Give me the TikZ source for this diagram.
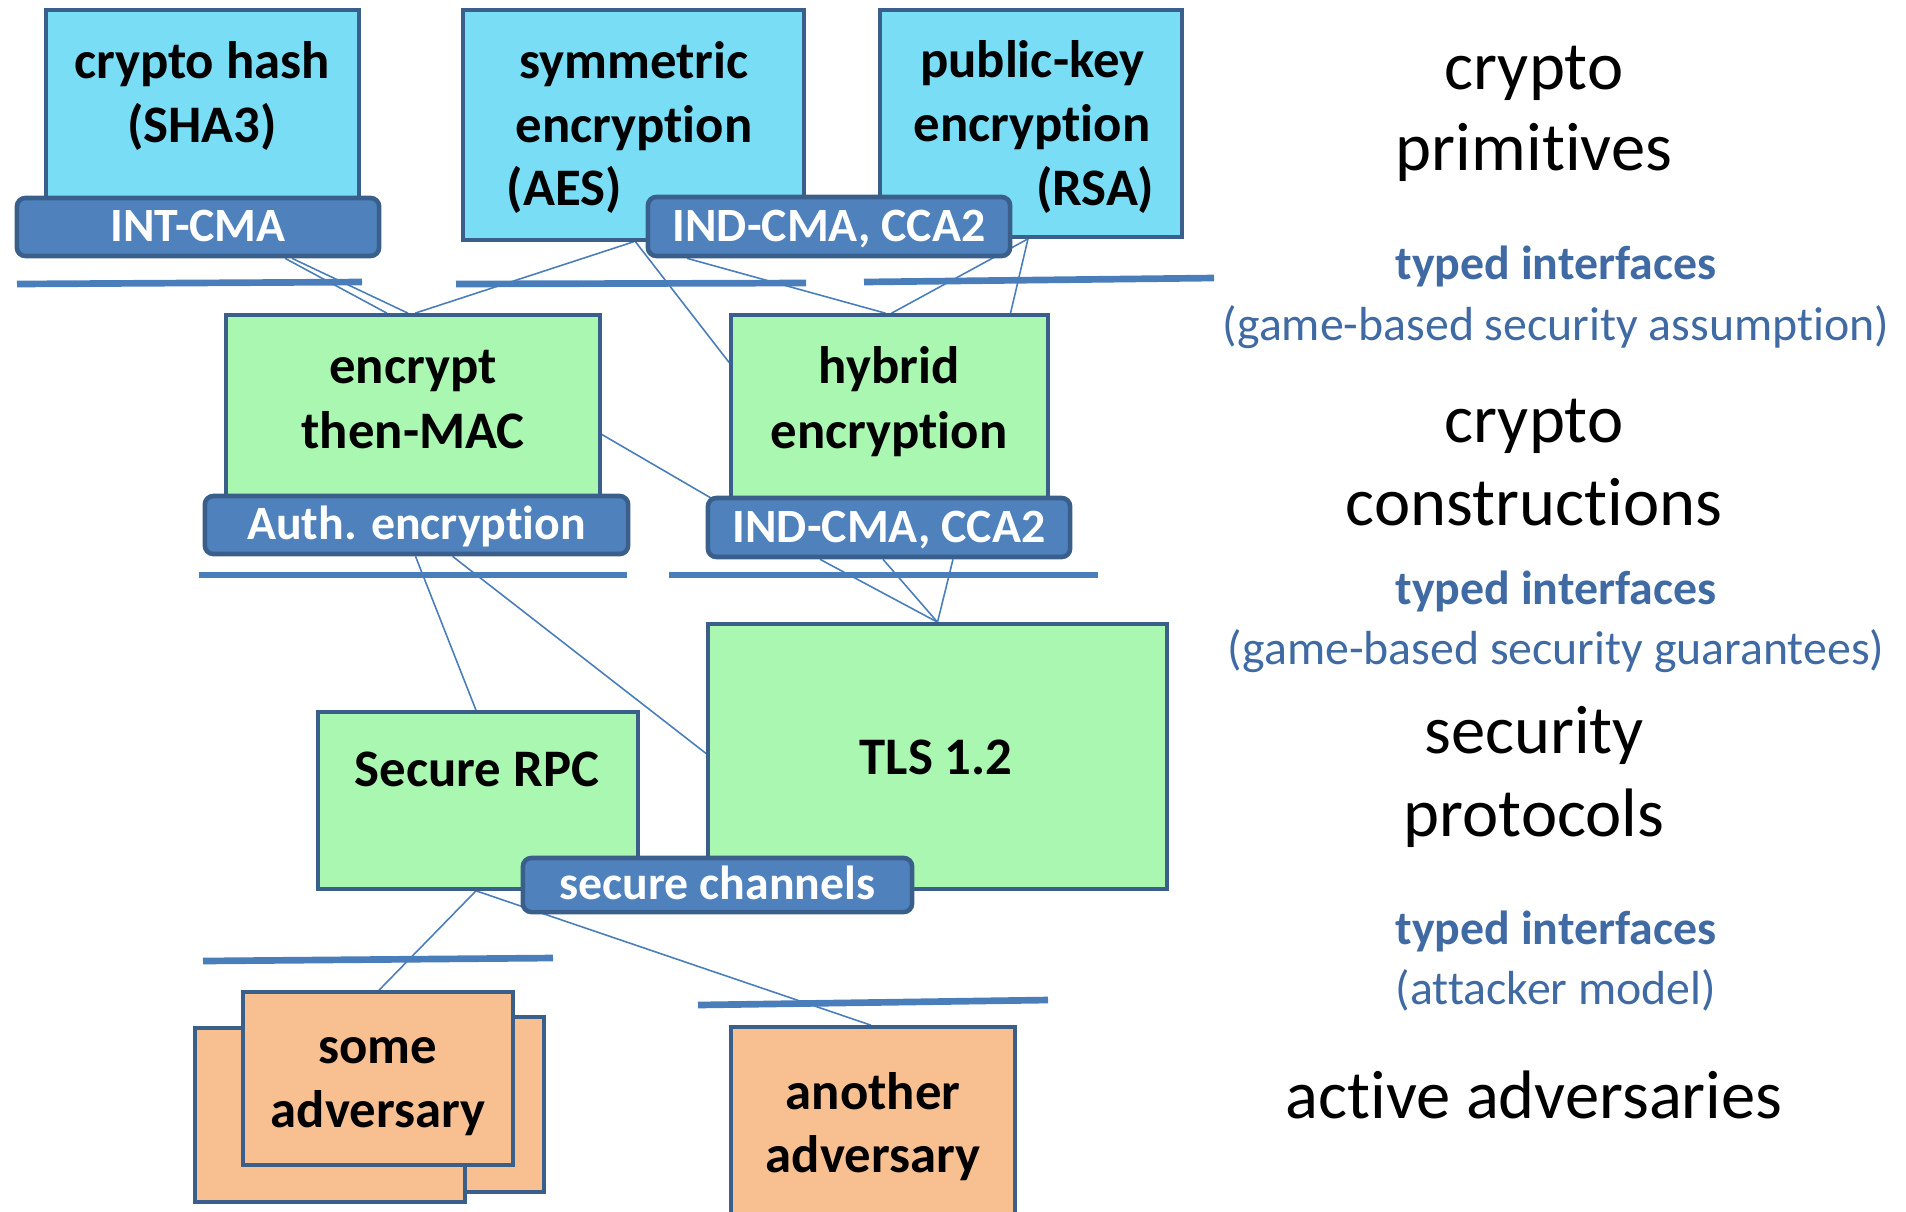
\documentclass[tikz,border=0pt]{standalone}
\usepackage{fontspec}
\setmainfont{Carlito}[Ligatures={NoCommon,NoContextual}]
\usetikzlibrary{calc}
\pgfdeclarelayer{bg}
\pgfsetlayers{bg,main}
\definecolor{cyanc}{HTML}{7ADDF6}
\definecolor{greenc}{HTML}{A9F7B0}
\definecolor{orangec}{HTML}{F8C090}
\definecolor{bordc}{HTML}{3A5F8B}
\definecolor{lblc}{HTML}{4F81BD}
\definecolor{barc}{HTML}{4A7EBB}
\definecolor{stxt}{HTML}{3F6AA3}
\newcommand\ttlfont{\fontsize{15}{18}\selectfont\bfseries}
\newcommand\bigfont{\fontsize{19.5}{23}\selectfont}
\newcommand\smfont{\fontsize{13.6}{16}\selectfont}
\tikzset{
  boxbase/.style={draw=bordc, line width=1pt, rectangle, inner sep=0pt},
  prim/.style={boxbase, fill=cyanc},
  cons/.style={boxbase, fill=greenc},
  advbox/.style={boxbase, fill=orangec},
  lbl/.style={draw=bordc, line width=1.3pt, fill=lblc, rounded corners=2.4pt, text=white,
    font=\smfont\bfseries, text height=8.5pt, text depth=0pt, inner sep=0pt},
  ttl/.style={font=\ttlfont, anchor=base, inner sep=0pt},
  bigt/.style={font=\bigfont, anchor=base, inner sep=0pt},
  smb/.style={font=\smfont\bfseries, text=stxt, anchor=base, inner sep=0pt},
  smr/.style={font=\smfont, text=stxt, anchor=base, inner sep=0pt},
  bar/.style={draw=barc, line width=1.9pt},
  conn/.style={draw=barc, line width=0.45pt},
}
\begin{document}
\begin{tikzpicture}[x=0.01cm, y=-0.01cm]
\useasboundingbox (0,0) rectangle (1906,1211);

% crypto primitives
\node[prim, minimum width=3.13cm, minimum height=1.97cm] (hash) at (202.5,108.5) {};
\node[prim, minimum width=3.41cm, minimum height=2.30cm] (sym) at (633.5,125) {};
\node[prim, minimum width=3.02cm, minimum height=2.27cm] (pk) at (1031,123.5) {};
\node[ttl] (hash1) at (202,78) {crypto hash};
\node[ttl] (hash2) at (202,142) {(SHA3)};
\node[ttl] (sym1) at (634,78) {symmetric};
\node[ttl] (sym2) at (634,142) {encryption};
\node[ttl, anchor=base west] (sym3) at (506,205) {(AES)};
\node[ttl] (pk1) at (1032,77) {public-key};
\node[ttl] (pk2) at (1032,141) {encryption};
\node[ttl, anchor=base east] (pk3) at (1155,205) {(RSA)};
\node[lbl, minimum width=3.62cm, minimum height=0.58cm] (intcma) at (198,227) {INT-CMA};
\node[lbl, minimum width=3.62cm, minimum height=0.59cm] (indtop) at (829,226.5) {IND-CMA, CCA2};

% crypto constructions
\node[cons, minimum width=3.74cm, minimum height=1.83cm] (etm) at (413,406.5) {};
\node[cons, minimum width=3.17cm, minimum height=1.85cm] (hyb) at (889.5,407.5) {};
\node[ttl] (etm1) at (413,383) {encrypt};
\node[ttl] (etm2) at (413,448) {then-MAC};
\node[ttl] (hyb1) at (889,383) {hybrid};
\node[ttl] (hyb2) at (889,448) {encryption};
\node[lbl, minimum width=4.23cm, minimum height=0.58cm] (auth) at (416.5,525) {Auth. encryption};
\node[lbl, minimum width=3.62cm, minimum height=0.59cm] (ind2) at (889,527.5) {IND-CMA, CCA2};

% security protocols
\node[cons, minimum width=3.20cm, minimum height=1.77cm] (rpc) at (478,800.5) {};
\node[cons, minimum width=4.59cm, minimum height=2.65cm] (tls) at (937.5,756.5) {};
\node[ttl] (rpc1) at (477,786) {Secure RPC};
\node[ttl] (tls1) at (936,774) {TLS 1.2};
\node[lbl, minimum width=3.89cm, minimum height=0.54cm] (sch) at (717.5,885) {secure channels};

% adversaries
\node[advbox, minimum width=2.68cm, minimum height=1.75cm] (advc) at (410,1104.5) {};
\node[advbox, minimum width=2.70cm, minimum height=1.74cm] (advb) at (330,1115) {};
\node[advbox, minimum width=2.70cm, minimum height=1.73cm] (adva) at (378,1078.5) {};
\node[ttl] (adva1) at (378,1063) {some};
\node[ttl] (adva2) at (378,1127) {adversary};
\node[advbox, minimum width=2.84cm, minimum height=2.03cm] (another) at (873,1128.5) {};
\node[ttl] (ano1) at (873,1109) {another};
\node[ttl] (ano2) at (873,1172) {adversary};

% right column
\node[bigt] (r1) at (1534,89) {crypto};
\node[bigt] (r2) at (1534,170) {primitives};
\node[smb] (r3) at (1556,279) {typed interfaces};
\node[smr] (r4) at (1556,340) {(game-based security assumption)};
\node[bigt] (r5) at (1534,442) {crypto};
\node[bigt] (r6) at (1534,525) {constructions};
\node[smb] (r7) at (1556,604) {typed interfaces};
\node[smr] (r8) at (1556,664) {(game-based security guarantees)};
\node[bigt] (r9) at (1534,753) {security};
\node[bigt] (r10) at (1534,836) {protocols};
\node[smb] (r11) at (1556,944) {typed interfaces};
\node[smr] (r12) at (1556,1004) {(attacker model)};
\node[bigt] (r13) at (1534,1118) {active adversaries};

\begin{pgfonlayer}{bg}
% separator bars
\draw[bar] (17,284) -- (362,282);
\draw[bar] (456,284) -- (806,283);
\draw[bar] (864,282) -- (1214,278);
\draw[bar] (199,575) -- (627,575);
\draw[bar] (669,575) -- (1098,575);
\draw[bar] (203,961) -- (553,958);
\draw[bar] (698,1005) -- (1048,1000);
% connectors
\draw[conn] ($(intcma.south)+(87,0)$) -- ($(etm.north)+(-26,0)$);
\draw[conn] ($(intcma.south)+(94,0)$) -- ($(etm.north)+(-5,0)$);
\draw[conn] (sym.south) -- ($(etm.north)+(2,0)$);
\draw[conn] ($(sym.south)+(2,0)$) -- ($(hyb.west)+(0,-45)$);
\draw[conn] ($(indtop.south)+(-142,0)$) -- ($(hyb.north)+(-4,0)$);
\draw[conn] ($(pk.south)+(-3,0)$) -- ($(hyb.north)+(2,0)$);
\draw[conn] ($(pk.south)+(-3,0)$) -- ($(hyb.north)+(121,0)$);
\draw[conn] ($(etm.east)+(0,28)$) -- ($(ind2.north west)+(10,5)$);
\draw[conn] ($(auth.south)+(-1,0)$) -- ($(rpc.north)+(-2,0)$);
\draw[conn] ($(auth.south)+(36,0)$) -- ($(tls.west)+(0,-3)$);
\draw[conn] ($(ind2.south)+(-69,0)$) -- (tls.north);
\draw[conn] ($(ind2.south)+(-6,0)$) -- (tls.north);
\draw[conn] ($(ind2.south)+(64,0)$) -- (tls.north);
\draw[conn] ($(rpc.south)+(-2,0)$) -- ($(adva.north)+(1,0)$);
\draw[conn] ($(rpc.south)+(-2,0)$) -- ($(another.north)+(-2,0)$);
\end{pgfonlayer}
\end{tikzpicture}
\end{document}
